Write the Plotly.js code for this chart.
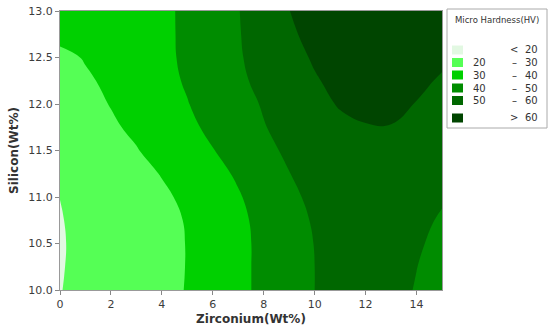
<!DOCTYPE html>
<html>
<head>
<meta charset="utf-8">
<script src="https://cdn.plot.ly/plotly-3.0.1.min.js"></script>
<style>html,body{margin:0;padding:0;background:#fff;}#chart{width:550px;height:332px;}</style>
</head>
<body>
<div id="chart"></div>
<script>
// Zirconium (Wt%) grid
const zirconium = [0, 1, 2, 3, 4, 5, 6, 7, 8, 9, 10, 11, 12, 13, 14, 15];
// Silicon (Wt%) grid
const silicon = [10.0, 10.25, 10.5, 10.75, 11.0, 11.25, 11.5, 11.75, 12.0, 12.25, 12.5, 12.75, 13.0];

// Micro hardness (HV), one row per silicon value
const hvSi1000 = [19.79, 21.9, 24.0, 26.1, 28.2, 30.3, 34.3, 38.0, 41.9, 46.0, 50.0, 52.6, 54.0, 52.2, 49.6, 47.0];
const hvSi1025 = [19.58, 21.7, 23.8, 25.9, 28.0, 30.2, 34.1, 38.0, 41.9, 46.0, 50.0, 53.0, 55.0, 53.3, 50.1, 47.5];
const hvSi1050 = [19.49, 21.6, 23.7, 25.9, 28.0, 30.2, 34.1, 38.0, 41.9, 46.1, 50.2, 53.6, 56.0, 55.5, 51.2, 47.5];
const hvSi1075 = [19.66, 21.8, 23.9, 26.1, 28.2, 30.4, 34.5, 38.3, 42.3, 46.6, 50.9, 54.5, 57.0, 56.8, 53.5, 48.5];
const hvSi1100 = [20.05, 22.3, 24.5, 26.7, 28.9, 31.3, 35.2, 39.3, 43.6, 48.0, 52.1, 55.2, 57.8, 58.0, 55.5, 51.5];
const hvSi1125 = [21.1, 23.4, 25.7, 28.0, 30.3, 34.0, 37.4, 41.1, 45.4, 49.8, 53.4, 56.3, 58.6, 58.7, 57.0, 54.0];
const hvSi1150 = [22.4, 24.8, 27.2, 29.6, 32.9, 36.3, 39.7, 43.7, 47.8, 51.5, 54.5, 57.2, 59.2, 59.4, 58.2, 56.0];
const hvSi1175 = [23.9, 26.4, 28.9, 31.5, 35.0, 38.2, 41.8, 45.7, 49.6, 52.8, 55.8, 58.0, 59.6, 59.8, 59.3, 57.8];
const hvSi1200 = [25.1, 27.7, 30.3, 33.5, 36.6, 39.7, 43.3, 47.0, 50.7, 54.1, 57.4, 60.7, 61.8, 61.3, 59.8, 58.0];
const hvSi1225 = [26.1, 28.8, 31.7, 34.6, 37.6, 40.8, 44.6, 48.5, 52.1, 55.7, 59.3, 62.2, 63.3, 63.0, 61.4, 59.3];
const hvSi1250 = [27.8, 30.6, 33.2, 35.8, 38.4, 41.2, 45.4, 49.2, 53.2, 57.1, 60.9, 63.3, 64.6, 64.5, 63.2, 61.2];
const hvSi1275 = [32.5, 33.9, 35.3, 36.8, 38.5, 41.3, 45.2, 49.5, 54.0, 58.5, 62.8, 64.9, 66.0, 65.9, 64.6, 62.6];
const hvSi1300 = [33.5, 34.8, 36.1, 37.3, 38.9, 41.0, 45.0, 49.7, 54.7, 59.9, 63.0, 65.6, 67.0, 67.0, 65.8, 64.0];

// Contour levels and legend labels
const levels = [20, 30, 40, 50, 60];
const legendLow = ['', '20', '30', '40', '50', ''];
const legendSep = ['<', '\u2013', '\u2013', '\u2013', '\u2013', '>'];
const legendHigh = ['20', '30', '40', '50', '60', '60'];
const bandColors = ['#e2f8e2', '#55ff55', '#00d000', '#008c00', '#006700', '#004500'];

const xTicks = [0, 2, 4, 6, 8, 10, 12, 14];
const yTicks = [10.0, 10.5, 11.0, 11.5, 12.0, 12.5, 13.0];

const hardness = [hvSi1000, hvSi1025, hvSi1050, hvSi1075, hvSi1100, hvSi1125, hvSi1150,
                  hvSi1175, hvSi1200, hvSi1225, hvSi1250, hvSi1275, hvSi1300];

// Layout geometry (pixels)
const W = 550, H = 332;
const M = {l: 60, r: 108, t: 11, b: 42};
const PW = W - M.l - M.r, PH = H - M.t - M.b;
const px = (x) => (x - M.l) / PW;
const py = (y) => (H - M.b - y) / PH;

const nb = bandColors.length;
const colorscale = bandColors.map((c, i) => [i / (nb - 1), c]);

const trace = {
  type: 'contour',
  x: zirconium,
  y: silicon,
  z: hardness,
  colorscale: colorscale,
  showscale: false,
  contours: {start: levels[0], end: levels[levels.length - 1], size: levels[1] - levels[0], coloring: 'fill'},
  line: {width: 0, smoothing: 1.3},
  hoverinfo: 'x+y+z'
};

const shapes = [];
const annotations = [];
const txtFont = {family: 'DejaVu Sans, sans-serif', size: 10, color: '#333'};

// Legend frame
shapes.push({type: 'rect', xref: 'paper', yref: 'paper',
  x0: px(447), x1: px(547), y0: py(9), y1: py(128),
  line: {color: '#aaaaaa', width: 1}, fillcolor: 'rgba(0,0,0,0)'});
annotations.push({xref: 'paper', yref: 'paper', x: px(497), y: py(20), text: 'Micro Hardness(HV)',
  showarrow: false, xanchor: 'center', yanchor: 'middle',
  font: {family: 'DejaVu Sans, sans-serif', size: 8.5, color: '#333'}});

const rowY = [50, 62.5, 75, 88, 100.5, 118];
for (let i = 0; i < nb; i++) {
  const cy = rowY[i];
  shapes.push({type: 'rect', xref: 'paper', yref: 'paper',
    x0: px(452), x1: px(463), y0: py(cy + 4.5), y1: py(cy - 4.5),
    line: {width: 0}, fillcolor: bandColors[i]});
  if (legendLow[i]) {
    annotations.push({xref: 'paper', yref: 'paper', x: px(471), y: py(cy), text: legendLow[i],
      showarrow: false, xanchor: 'left', yanchor: 'middle', font: txtFont});
  }
  annotations.push({xref: 'paper', yref: 'paper', x: px(514), y: py(cy), text: legendSep[i],
    showarrow: false, xanchor: 'center', yanchor: 'middle', font: txtFont});
  annotations.push({xref: 'paper', yref: 'paper', x: px(523), y: py(cy), text: legendHigh[i],
    showarrow: false, xanchor: 'left', yanchor: 'middle', font: txtFont});
}

const axisFont = {family: 'DejaVu Sans, sans-serif', size: 11, color: '#3c3c3c'};
const layout = {
  width: W, height: H,
  margin: M,
  paper_bgcolor: '#fff', plot_bgcolor: '#fff',
  showlegend: false,
  xaxis: {
    range: [0, 15], tickvals: xTicks, ticktext: xTicks.map(String),
    ticks: 'outside', ticklen: 4, tickcolor: '#888', showline: true, mirror: true, linecolor: '#999', linewidth: 1,
    showgrid: false, zeroline: false, tickfont: axisFont,
    title: {text: '<b>Zirconium(Wt%)</b>', font: {family: 'DejaVu Sans, sans-serif', size: 12, color: '#333'}, standoff: 4}
  },
  yaxis: {
    range: [10, 13], tickvals: yTicks, ticktext: yTicks.map(v => v.toFixed(1)),
    ticks: 'outside', ticklen: 4, tickcolor: '#888', showline: true, mirror: true, linecolor: '#999', linewidth: 1,
    showgrid: false, zeroline: false, tickfont: axisFont,
    title: {text: '<b>Silicon(Wt%)</b>', font: {family: 'DejaVu Sans, sans-serif', size: 12, color: '#333'}, standoff: 7}
  },
  shapes: shapes,
  annotations: annotations
};

Plotly.newPlot('chart', [trace], layout, {displayModeBar: false, staticPlot: true});
</script>
</body>
</html>
